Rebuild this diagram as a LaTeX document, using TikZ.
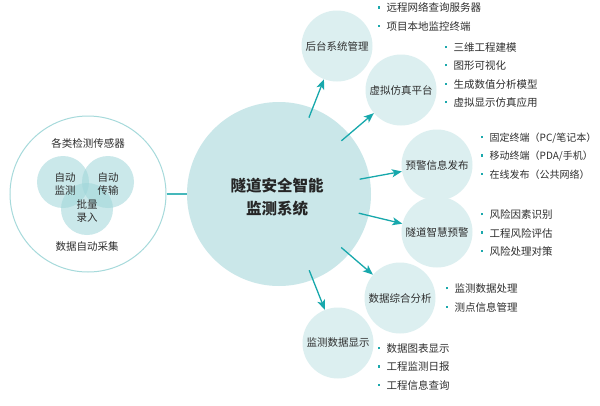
\documentclass[tikz,border=0pt]{standalone}
\usepackage{fontspec}
\setmainfont{Noto Sans CJK SC}
\usetikzlibrary{arrows.meta,calc}
\definecolor{mainfill}{HTML}{CAE7E9}
\definecolor{satfill}{HTML}{DCEFF0}
\definecolor{ring}{HTML}{A6DADB}
\definecolor{venn}{HTML}{9FD6D9}
\definecolor{arrowc}{HTML}{17A8AC}
\definecolor{linkc}{HTML}{45B8BB}
\definecolor{txt}{HTML}{2E2E2E}
\definecolor{bulc}{HTML}{1BA8AC}
\newcommand\bulmark{\makebox[8.5pt][l]{\textcolor{bulc}{\raisebox{0.32em}{\rule{2.2pt}{2.2pt}}}}}
\begin{document}
\begin{tikzpicture}[x=1pt,y=-1pt,
  sat/.style={circle,fill=satfill,minimum size=71pt,inner sep=0pt,text=txt,font=\fontsize{10.5}{12}\selectfont},
  vennc/.style={circle,fill=venn,fill opacity=0.55,minimum size=52pt,inner sep=0pt},
  lbl/.style={text=txt,font=\fontsize{10.5}{13}\selectfont,align=center,inner sep=0pt},
  lst/.style={anchor=west,align=left,text=txt,font=\fontsize{10.5}{18.3}\selectfont,inner sep=0pt},
  arr/.style={draw=arrowc,line width=1.3pt,-{Stealth[length=10pt,width=8pt,inset=2.5pt]}}]
\useasboundingbox[fill=white] (0,0) rectangle (600,405);
% source circle
\node[circle,draw=ring,line width=1pt,fill=white,minimum size=156pt,inner sep=0pt] (src) at (88,194) {};
\node[vennc] (va) at (63,182) {};
\node[vennc] (vb) at (108,182) {};
\node[vennc] (vc) at (87,209) {};
\node[lbl] (t1) at (88,143) {各类检测传感器};
\node[lbl] (t2) at (87,247) {数据自动采集};
\node[lbl] (ta) at (65,183.5) {自动\\监测};
\node[lbl] (tb) at (108,183.5) {自动\\传输};
\node[lbl] (tc) at (87,211) {批量\\录入};
% main circle
\node[circle,fill=mainfill,minimum size=184pt,inner sep=0pt] (m) at (279,194) {};
\node[font=\fontsize{15.5}{23}\selectfont\bfseries,align=center,text=black!85,inner sep=0pt] (mt) at (277,197) {隧道安全智能\\监测系统};
\draw[linkc,line width=1.5pt] (src) -- (m);
% satellites
\node[sat] (s1) at (337,46) {后台系统管理};
\node[sat] (s2) at (401,90) {虚拟仿真平台};
\node[sat] (s3) at (437,165) {预警信息发布};
\node[sat] (s4) at (437,232) {隧道智慧预警};
\node[sat] (s5) at (400,298) {数据综合分析};
\node[sat] (s6) at (338,343) {监测数据显示};
% arrows
\foreach \s in {s1,s2,s3,s4,s5,s6}{
  \draw[arr] ($(m.center)!82pt!(\s.center)$) -- (\s);
}
% lists
\node[lst] (l1) at (378,17) {\bulmark 远程网络查询服务器\\\bulmark 项目本地监控终端};
\node[lst] (l2) at (445,75) {\bulmark 三维工程建模\\\bulmark 图形可视化\\\bulmark 生成数值分析模型\\\bulmark 虚拟显示仿真应用};
\node[lst,font=\fontsize{10}{18.3}\selectfont] (l3) at (481,156) {\bulmark 固定终端（PC/笔记本）\\\bulmark 移动终端（PDA/手机）\\\bulmark 在线发布（公共网络）};
\node[lst] (l4) at (481,233) {\bulmark 风险因素识别\\\bulmark 工程风险评估\\\bulmark 风险处理对策};
\node[lst] (l5) at (446,298) {\bulmark 监测数据处理\\\bulmark 测点信息管理};
\node[lst] (l6) at (378,367) {\bulmark 数据图表显示\\\bulmark 工程监测日报\\\bulmark 工程信息查询};
\end{tikzpicture}
\end{document}
